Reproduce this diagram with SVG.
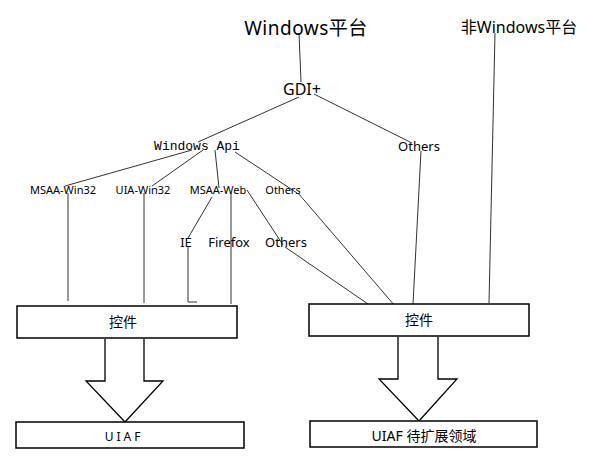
<svg xmlns="http://www.w3.org/2000/svg" width="593" height="476" viewBox="0 0 593 476">
<style>
.t{font-family:"Noto Sans","Noto Sans CJK SC",sans-serif;fill:#000;text-anchor:middle}
.m{font-family:"Liberation Mono","DejaVu Sans Mono",monospace;fill:#000;text-anchor:middle}
.c{stroke:#333;stroke-width:1;fill:none}
.box{fill:#fff;stroke:#000;stroke-width:1.5}
.arr{fill:#fff;stroke:#000;stroke-width:1.3}
</style>
<rect width="593" height="476" fill="#fff"/>
<g id="connectors">
<path class="c" d="M299,33 L301,82"/>
<path class="c" d="M299,97 L198,142"/>
<path class="c" d="M314,94 L412,143"/>
<path class="c" d="M495,33 L489,303"/>
<path class="c" d="M421,151 L413,304"/>
<path class="c" d="M192,150 L65,186"/>
<path class="c" d="M203,150 L152,186"/>
<path class="c" d="M215,150 L219,188"/>
<path class="c" d="M235,152 L297,193"/>
<path class="c" d="M298,193 L395,306"/>
<path class="c" d="M212,197 L188,238"/>
<path class="c" d="M188,247 L188,302 L197,302"/>
<path class="c" d="M231,193 L231,304"/>
<path class="c" d="M247,190 L283,245"/>
<path class="c" d="M285,247 L368,304"/>
<path class="c" d="M68,193 L68,301"/>
<path class="c" d="M144,193 L144,303"/>
</g>
<g id="n-windows"><text class="t" x="306" y="35" font-size="19" letter-spacing="0.5">Windows平台</text></g>
<g id="n-nonwindows"><text class="t" x="519" y="33" font-size="16">非Windows平台</text></g>
<g id="n-gdi"><text class="t" x="302" y="95" font-size="16">GDI+</text></g>
<g id="n-winapi"><text class="m" x="197" y="150" font-size="13">Windows Api</text></g>
<g id="n-others1"><text class="t" x="419" y="151" font-size="13">Others</text></g>
<g id="n-msaawin32"><text class="t" x="63" y="194" font-size="11">MSAA-Win32</text></g>
<g id="n-uiawin32"><text class="t" x="143" y="194" font-size="11">UIA-Win32</text></g>
<g id="n-msaaweb"><text class="t" x="218" y="194" font-size="11">MSAA-Web</text></g>
<g id="n-others2"><text class="t" x="283" y="194" font-size="11">Others</text></g>
<g id="n-ie"><text class="t" x="186" y="247" font-size="13">IE</text></g>
<g id="n-firefox"><text class="t" x="229" y="247" font-size="13">Firefox</text></g>
<g id="n-others3"><text class="t" x="286" y="247" font-size="13">Others</text></g>
<g id="n-ctrl1"><rect class="box" x="17" y="306" width="220" height="32"/><text class="t" x="123" y="327" font-size="14">控件</text></g>
<g id="n-ctrl2"><rect class="box" x="309" y="304" width="220" height="32"/><text class="t" x="419" y="325" font-size="14">控件</text></g>
<g id="arrow1"><path class="arr" d="M105,339 L105,381 L86,381 L125,422 L163,381 L144,381 L144,339"/></g>
<g id="arrow2"><path class="arr" d="M398,337 L398,379 L379,379 L419,421 L457,379 L438,379 L438,337"/></g>
<g id="n-uiaf"><rect class="box" x="16" y="422" width="228" height="26"/><text class="t" x="124" y="441" font-size="12" letter-spacing="3">UIAF</text></g>
<g id="n-uiafext"><rect class="box" x="310" y="421" width="227" height="26"/><text class="t" x="424" y="441" font-size="14">UIAF 待扩展领域</text></g>
</svg>
